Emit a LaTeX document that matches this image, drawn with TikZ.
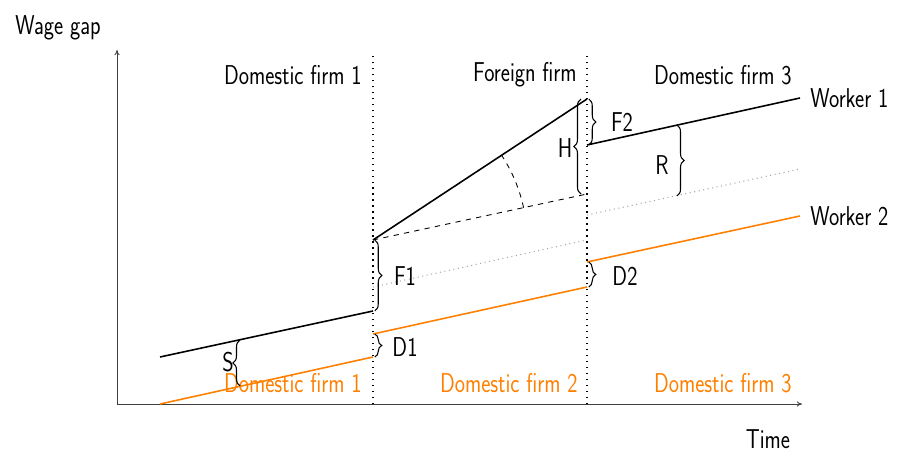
\documentclass[tikz,border=0pt]{standalone}
\usepackage{fontspec}
\setsansfont{Latin Modern Sans}[FakeStretch=0.8]
\usepackage{xcolor}
\usetikzlibrary{arrows.meta,decorations.pathreplacing}
\definecolor{wageorange}{RGB}{255,128,0}

\begin{document}
\begin{tikzpicture}[x=0.2cm, y=0.2cm, >={To[length=3pt,width=3pt]},
        font=\sffamily\fontsize{15.5}{18}\selectfont,
        axis/.style={->, line width=0.5pt, black!75},
        firmline/.style={line width=0.7pt, dash pattern=on 0.8pt off 2.6pt},
        wage/.style={line width=0.9pt},
        cfline/.style={dotted, line width=0.6pt, black!35},
        tight/.style={inner sep=0pt},
        gapbrace/.style={decorate, decoration={brace, amplitude=4pt}, line width=0.6pt}]

        \useasboundingbox (-11.7,-4.7) rectangle (78.0,40.4);

        % Axes
        \coordinate (O) at (0,0);
        \coordinate (ytop) at (0,35.4);
        \coordinate (xend) at (68.5,0);
        \draw[axis] (O) -- (ytop);
        \draw[axis] (O) -- (xend);
        \node (wagegap) at (-5.9,37.6) {Wage gap};
        \node[tight] (time) at (65.1,-3.5) {Time};

        % Job changes
        \coordinate (m1b) at (25.6,0);
        \coordinate (m1t) at (25.6,35.0);
        \coordinate (m2b) at (47.0,0);
        \coordinate (m2t) at (47.0,35.0);
        \draw[firmline] (m1b) -- (m1t);
        \draw[firmline] (m2b) -- (m2t);

        % Firms of worker 1 (top)
        \node[tight, anchor=east] (top1) at (24.5,32.9) {Domestic firm 1};
        \node[tight, anchor=east] (top2) at (46.0,32.9) {Foreign firm};
        \node[tight, anchor=east] (top3) at (67.5,32.9) {Domestic firm 3};

        % Firms of worker 2 (bottom)
        \node[tight, anchor=east, wageorange] (bot1) at (24.5,2.1) {Domestic firm 1};
        \node[tight, anchor=east, wageorange] (bot2) at (46.1,2.1) {Domestic firm 2};
        \node[tight, anchor=east, wageorange] (bot3) at (67.5,2.1) {Domestic firm 3};

        % Worker 1
        \coordinate (a0) at (4.3,4.7);
        \coordinate (a1) at (25.6,9.3);
        \coordinate (b0) at (25.6,16.4);
        \coordinate (b1) at (47.0,30.5);
        \coordinate (c0) at (47.0,25.9);
        \coordinate (c1) at (68.3,30.6);
        \draw[wage] (a0) -- (a1);
        \draw[wage] (b0) -- (b1);
        \draw[wage] (c0) -- (c1);
        \node[tight, anchor=west] (w1) at (69.3,30.6) {Worker 1};

        % Worker 2
        \coordinate (d0) at (4.3,0);
        \coordinate (d1) at (25.6,4.7);
        \coordinate (e0) at (25.6,7.0);
        \coordinate (e1) at (47.0,11.7);
        \coordinate (f0) at (47.0,14.2);
        \coordinate (f1) at (68.3,18.8);
        \draw[wage, wageorange] (d0) -- (d1);
        \draw[wage, wageorange] (e0) -- (e1);
        \draw[wage, wageorange] (f0) -- (f1);
        \node[tight, anchor=west] (w2) at (69.3,18.8) {Worker 2};

        % Counterfactual paths of worker 1
        \coordinate (h0) at (47.0,21.0);
        \draw[dashed, line width=0.5pt] (b0) -- (h0);
        \draw[dashed, line width=0.5pt] ([shift={(12.1:3.08cm)}]b0) arc[start angle=12.1, end angle=33.4, radius=3.08cm];
        \coordinate (g0) at (25.6,11.7);
        \coordinate (g1) at (47.0,16.4);
        \coordinate (k0) at (47.0,18.9);
        \coordinate (k1) at (68.3,23.5);
        \draw[cfline] (g0) -- (g1);
        \draw[cfline] (k0) -- (k1);

        % Gaps
        \coordinate (sT) at (12.3,6.4);
        \coordinate (sB) at (12.3,1.8);
        \coordinate (rT) at (56.0,27.9);
        \coordinate (rB) at (56.0,20.8);
        \coordinate (hB) at (46.4,21.0);
        \coordinate (hT) at (46.4,30.5);
        \draw[gapbrace] (sB) -- (sT);
        \draw[gapbrace] ([xshift=1pt]b0) -- ([xshift=1pt]a1);
        \draw[gapbrace] ([xshift=1pt]e0) -- ([xshift=1pt]d1);
        \draw[gapbrace] ([xshift=1pt]f0) -- ([xshift=1pt]e1);
        \draw[gapbrace] ([xshift=1pt]b1) -- ([xshift=1pt]c0);
        \draw[gapbrace] (hB) -- (hT);
        \draw[gapbrace] (rT) -- (rB);

        \node (S) at (11.1,4.2) {S};
        \node (F1) at (28.8,12.8) {F1};
        \node (D1) at (28.8,5.7) {D1};
        \node (D2) at (50.8,12.8) {D2};
        \node (F2) at (50.5,28.2) {F2};
        \node (H) at (44.8,25.6) {H};
        \node (R) at (54.5,23.9) {R};

    \end{tikzpicture}
\end{document}
